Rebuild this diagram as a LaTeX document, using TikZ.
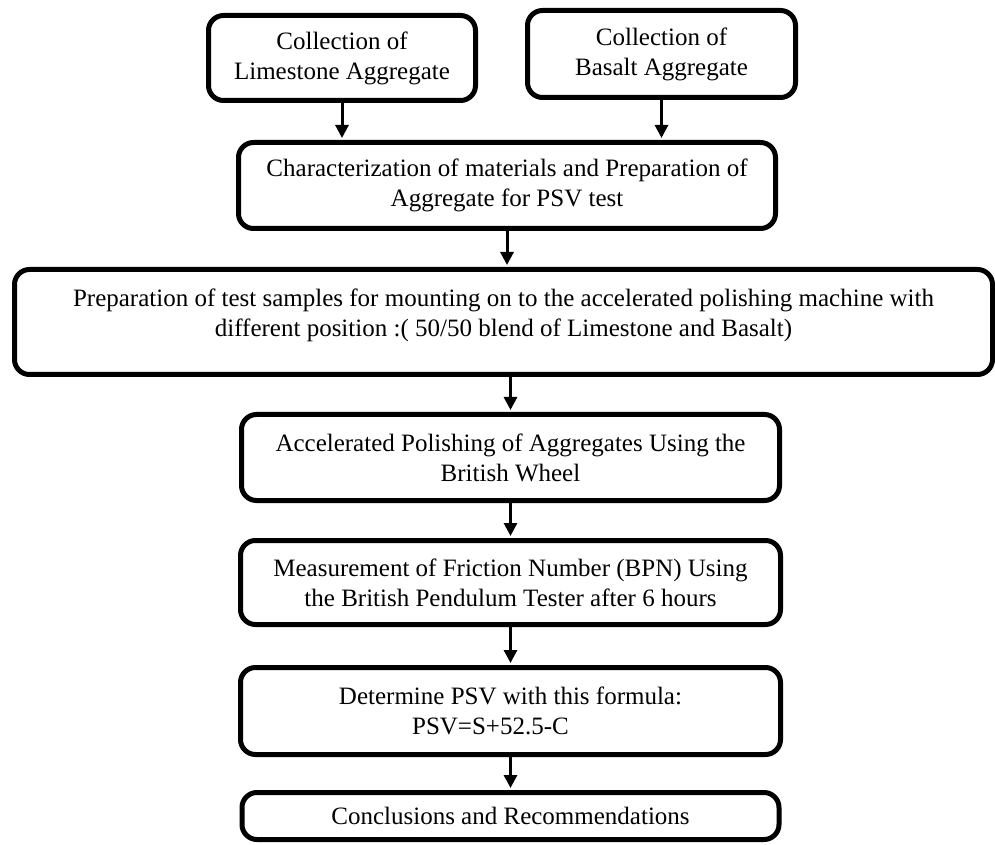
\documentclass[tikz,border=0pt]{standalone}
\usepackage{fontspec}
\setmainfont{Liberation Serif}
\usetikzlibrary{arrows.meta}

\begin{document}
\begin{tikzpicture}[x=1pt, y=1pt,
    stage/.style={draw=black, line width=5pt, rounded corners=15pt, align=center, inner sep=0pt,
      font=\fontsize{25}{30}\selectfont},
    flow/.style={-{Triangle[length=13pt, width=13pt]}, line width=3pt, shorten >=2pt}]
    \useasboundingbox (0,0) rectangle (995,844);

    \node[stage, minimum width=267, minimum height=85] (lime) at (342, 786)
      {Collection of\\ Limestone Aggregate};
    \node[stage, minimum width=268, minimum height=87] (basalt) at (661.5, 790)
      {Collection of\\ Basalt Aggregate};
    \node[stage, minimum width=537, minimum height=86] (charac) at (507, 658.5)
      {Characterization of materials and Preparation of\\ Aggregate for PSV test};
    \node[stage, minimum width=978, minimum height=105] (prep) at (503.5, 522)
      {Preparation of test samples for mounting on to the accelerated polishing machine with\\
       different position :( 50/50 blend of Limestone and Basalt)\rule[-19pt]{0pt}{0pt}};
    \node[stage, minimum width=538, minimum height=86] (polish) at (510.5, 386.5)
      {Accelerated Polishing of Aggregates Using the\\ British Wheel};
    \node[stage, minimum width=540, minimum height=84] (friction) at (510.5, 261.5)
      {Measurement of Friction Number (BPN) Using\\ the British Pendulum Tester after 6 hours};
    \node[stage, minimum width=540, minimum height=87] (psv) at (510.5, 133)
      {Determine PSV with this formula:\\ PSV=S+52.5-C\rule{40pt}{0pt}};
    \node[stage, minimum width=537, minimum height=47] (concl) at (510.5, 28)
      {Conclusions and Recommendations};

    \draw[flow] (lime.south) -- (lime.south |- charac.north);
    \draw[flow] (basalt.south) -- (basalt.south |- charac.north);
    \draw[flow] (charac.south) -- (charac.south |- prep.north);
    \draw[flow] (polish.north |- prep.south) -- (polish.north);
    \draw[flow] (polish.south) -- (friction.north);
    \draw[flow] (friction.south) -- (psv.north);
    \draw[flow] (psv.south) -- (concl.north);
  \end{tikzpicture}
\end{document}
